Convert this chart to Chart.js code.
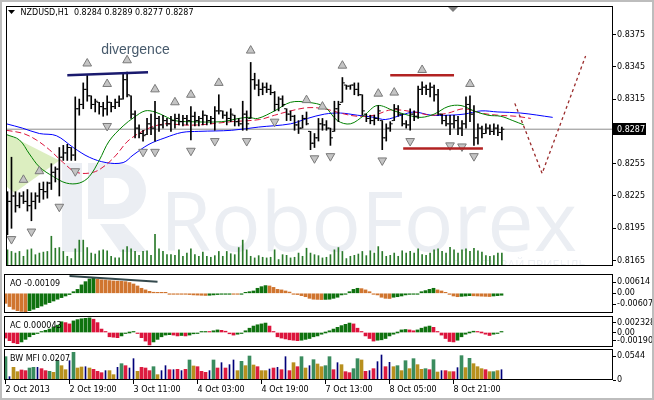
<!DOCTYPE html>
<html><head><meta charset="utf-8">
<script src="https://cdn.jsdelivr.net/npm/chart.js@4.4.1/dist/chart.umd.min.js"></script>
<style>
html,body{margin:0;padding:0;background:#fff;overflow:hidden}
#wrap{position:relative;width:654px;height:400px;background:#fff}
#wrap canvas{position:absolute;left:0}
#edge{position:absolute;left:0;top:0;width:650px;height:396px;border:2px solid #bdbdbd;pointer-events:none}
</style></head><body>
<div id="wrap">
<canvas id="cMain" width="654" height="272" style="top:0px"></canvas>
<canvas id="cAO" width="654" height="39" style="top:274px"></canvas>
<canvas id="cAC" width="654" height="31" style="top:316px"></canvas>
<canvas id="cMFI" width="654" height="51" style="top:349px"></canvas>
<div id="edge"></div>
</div>
<script>
// ---------------- DATA ----------------
const symbolTitle = 'NZDUSD,H1  0.8284 0.8289 0.8277 0.8287';
const timeLabels = ['2 Oct 2013','2 Oct 19:00','3 Oct 11:00','4 Oct 03:00','4 Oct 19:00','7 Oct 13:00','8 Oct 05:00','8 Oct 21:00'];
const timeLabelBars = [0,16,32,48,64,80,96,112];
const priceTicks = [0.8375,0.8345,0.8315,0.8255,0.8225,0.8195,0.8165];

const highs = [0.8229,0.8261,0.8229,0.8228,0.8229,0.8231,0.8228,0.8228,0.8237,0.8238,
0.8238,0.8255,0.8252,0.8270,0.8272,0.8273,0.8270,0.8317,0.8315,0.8330,
0.8337,0.8318,0.8315,0.8312,0.8312,0.8318,0.8312,0.8315,0.8318,0.8339,
0.8340,0.8318,0.8304,0.8291,0.8286,0.8297,0.8301,0.8313,0.8299,0.8300,
0.8297,0.8299,0.8301,0.8301,0.8300,0.8300,0.8308,0.8303,0.8299,0.8304,
0.8300,0.8299,0.8308,0.8319,0.8304,0.8303,0.8306,0.8300,0.8297,0.8313,
0.8304,0.8349,0.8339,0.8333,0.8330,0.8330,0.8328,0.8322,0.8317,0.8318,
0.8306,0.8304,0.8300,0.8295,0.8300,0.8303,0.8285,0.8283,0.8297,0.8297,
0.8295,0.8288,0.8313,0.8313,0.8335,0.8328,0.8328,0.8330,0.8330,0.8319,
0.8301,0.8300,0.8300,0.8309,0.8295,0.8292,0.8294,0.8310,0.8309,0.8301,
0.8295,0.8306,0.8304,0.8327,0.8331,0.8328,0.8330,0.8328,0.8324,0.8301,
0.8300,0.8300,0.8300,0.8299,0.8295,0.8317,0.8318,0.8309,0.8292,0.8290,
0.8292,0.8291,0.8292,0.8291,0.8289];
const lows = [0.8189,0.8195,0.8210,0.8214,0.8218,0.8211,0.8202,0.8213,0.8219,0.8222,
0.8223,0.8231,0.8238,0.8225,0.8258,0.8258,0.8258,0.8258,0.8300,0.8306,
0.8313,0.8306,0.8303,0.8301,0.8299,0.8300,0.8303,0.8306,0.8308,0.8315,
0.8317,0.8297,0.8279,0.8279,0.8276,0.8282,0.8282,0.8276,0.8285,0.8288,
0.8290,0.8285,0.8288,0.8291,0.8290,0.8291,0.8277,0.8290,0.8290,0.8291,
0.8291,0.8292,0.8286,0.8301,0.8297,0.8291,0.8294,0.8290,0.8290,0.8286,
0.8286,0.8297,0.8324,0.8318,0.8319,0.8321,0.8319,0.8304,0.8304,0.8308,
0.8295,0.8295,0.8286,0.8283,0.8288,0.8291,0.8268,0.8270,0.8276,0.8286,
0.8286,0.8272,0.8285,0.8294,0.8312,0.8324,0.8324,0.8319,0.8318,0.8300,
0.8294,0.8292,0.8291,0.8295,0.8268,0.8276,0.8285,0.8295,0.8299,0.8290,
0.8288,0.8286,0.8295,0.8297,0.8319,0.8319,0.8317,0.8313,0.8300,0.8292,
0.8290,0.8282,0.8288,0.8282,0.8281,0.8288,0.8294,0.8272,0.8273,0.8279,
0.8283,0.8282,0.8282,0.8281,0.8277];
const opens = [0.8198,0.8220,0.8225,0.8216,0.8225,0.8220,0.8216,0.8220,0.8225,0.8231,
0.8229,0.8237,0.8247,0.8250,0.8261,0.8265,0.8270,0.8263,0.8306,0.8310,
0.8324,0.8318,0.8310,0.8312,0.8308,0.8306,0.8312,0.8308,0.8312,0.8315,
0.8333,0.8318,0.8301,0.8288,0.8283,0.8282,0.8292,0.8288,0.8297,0.8291,
0.8295,0.8292,0.8295,0.8297,0.8294,0.8297,0.8295,0.8299,0.8295,0.8297,
0.8300,0.8295,0.8297,0.8304,0.8304,0.8300,0.8297,0.8300,0.8294,0.8292,
0.8301,0.8297,0.8333,0.8328,0.8324,0.8326,0.8324,0.8321,0.8310,0.8315,
0.8306,0.8301,0.8299,0.8291,0.8288,0.8297,0.8285,0.8274,0.8279,0.8292,
0.8291,0.8288,0.8285,0.8306,0.8312,0.8328,0.8327,0.8328,0.8324,0.8319,
0.8301,0.8297,0.8295,0.8297,0.8295,0.8279,0.8288,0.8295,0.8306,0.8301,
0.8292,0.8291,0.8301,0.8299,0.8324,0.8326,0.8324,0.8326,0.8319,0.8301,
0.8295,0.8292,0.8292,0.8295,0.8288,0.8292,0.8310,0.8301,0.8279,0.8288,
0.8283,0.8288,0.8285,0.8288,0.8284];
const closes = [0.8220,0.8225,0.8216,0.8225,0.8220,0.8216,0.8220,0.8225,0.8231,0.8229,
0.8237,0.8247,0.8250,0.8261,0.8265,0.8270,0.8263,0.8306,0.8310,0.8324,
0.8318,0.8310,0.8313,0.8308,0.8306,0.8312,0.8308,0.8312,0.8315,0.8333,
0.8319,0.8301,0.8288,0.8283,0.8281,0.8292,0.8288,0.8297,0.8291,0.8295,
0.8292,0.8295,0.8297,0.8294,0.8297,0.8295,0.8299,0.8295,0.8297,0.8300,
0.8295,0.8297,0.8304,0.8304,0.8300,0.8297,0.8301,0.8294,0.8292,0.8301,
0.8292,0.8333,0.8328,0.8324,0.8326,0.8324,0.8321,0.8310,0.8315,0.8310,
0.8301,0.8299,0.8291,0.8288,0.8297,0.8292,0.8274,0.8279,0.8292,0.8291,
0.8288,0.8279,0.8306,0.8310,0.8330,0.8327,0.8328,0.8324,0.8319,0.8304,
0.8297,0.8295,0.8297,0.8304,0.8279,0.8288,0.8292,0.8306,0.8301,0.8292,
0.8291,0.8301,0.8299,0.8324,0.8326,0.8324,0.8326,0.8319,0.8301,0.8295,
0.8292,0.8292,0.8295,0.8288,0.8292,0.8310,0.8301,0.8279,0.8288,0.8283,
0.8288,0.8285,0.8288,0.8284,0.8287];
const volumes = [500,450,400,450,300,500,530,350,400,430,450,920,550,570,450,300,230,530,800,800,
570,400,370,470,500,470,300,250,250,500,600,530,450,330,450,470,330,980,530,450,
350,350,330,500,300,400,530,350,300,430,300,270,320,450,300,450,380,350,570,800,
500,300,250,320,270,250,270,500,200,350,330,250,270,400,300,550,400,350,320,
250,270,350,500,570,450,230,300,330,370,450,320,470,400,600,450,300,330,400,300,
470,400,450,400,530,350,330,400,500,530,450,400,580,500,400,500,530,450,550,470,
430,320,300,320,400,400];

// Alligator lines: [bar index, price]
const jawLine = [[-0.25,0.8292],[3.75,0.8288],[8,0.8283],[12.25,0.8281],[16.5,0.8270],[20.5,0.8261],[24.75,0.8256],[29,0.8256],[31.5,0.8263],[35.5,0.8273],[39.5,0.8279],[43.75,0.8284],[48,0.8285],[56.25,0.8286],[63,0.8289],[71,0.8292],[75.25,0.8297],[79.5,0.8301],[83.5,0.8302],[87.75,0.8300],[92,0.8298],[94.75,0.8296],[98.75,0.8300],[102,0.8303],[106.25,0.8300],[110.5,0.8300],[114.5,0.8301],[118.75,0.8304],[123,0.8303],[128.75,0.8302],[136.75,0.8298]];
const teethLine = [[-0.25,0.8286],[4,0.8283],[7.25,0.8277],[10.5,0.8268],[14,0.8256],[17.25,0.8247],[21.5,0.8247],[24.75,0.8254],[27.25,0.8263],[30.5,0.8277],[35.5,0.8288],[39.5,0.8292],[43.75,0.8291],[48,0.8291],[56.25,0.8294],[63.25,0.8296],[67,0.8300],[71,0.8304],[75.25,0.8307],[79.5,0.8306],[83.5,0.8302],[87.75,0.8299],[92,0.8300],[96.25,0.8305],[102,0.8303],[106.25,0.8300],[110.5,0.8302],[114.5,0.8306],[118.75,0.8302],[123,0.8300],[127.5,0.8299],[131.25,0.8297]];
const lipsLine = [[-0.25,0.8282],[3,0.8277],[5.5,0.8264],[8,0.8252],[11.5,0.8243],[14.75,0.8237],[18,0.8237],[20.5,0.8243],[23,0.8258],[25.5,0.8276],[29,0.8290],[31.75,0.8298],[34.5,0.8304],[37,0.8303],[39.5,0.8299],[42,0.8295],[45.5,0.8294],[53.75,0.8294],[58,0.8297],[60.5,0.8298],[62.75,0.8297],[67,0.8304],[71,0.8312],[75.25,0.8312],[79.5,0.8308],[82.75,0.8295],[86,0.8292],[89.5,0.8300],[92.75,0.8309],[97,0.8304],[100.5,0.8300],[103.75,0.8298],[107,0.8301],[110.5,0.8308],[113.75,0.8309],[117,0.8304],[120.5,0.8300],[123.75,0.8299],[126.75,0.8295],[129.5,0.8291]];

const fractalUp = [4,8,20,25,30,37,42,46,53,61,75,79,84,93,97,104,116];
const fractalDown = [1,6,13,17,25,34,37,46,52,60,67,77,81,94,101,111,114,117];

const shadeArea = [[-0.375,0.8283],[13,0.8258],[1.75,0.8228],[-0.375,0.8234],[-0.375,0.8283]];
const divergenceLine = [[15,0.8337],[35.25,0.8340]];
const resistanceLine = [[96,0.8337],[112,0.8337]];
const supportLine = [[99.25,0.8269],[119.25,0.8269]];
const forecastPath = [[127.25,0.8311],[134.1,0.8246],[145,0.8355]];

const aoValues = [-0.0056,-0.0074,-0.0089,-0.0097,-0.0101,-0.0103,-0.0097,-0.0089,-0.0080,-0.0071,
-0.0061,-0.0052,-0.0043,-0.0033,-0.0024,-0.0015,-0.0007,0.0009,0.0022,0.0047,
0.0065,0.0080,0.0084,0.0078,0.0075,0.0074,0.0071,0.0069,0.0068,0.0067,
0.0065,0.0060,0.0052,0.0041,0.0028,0.0019,0.0011,0.0006,0.0004,0.0002,
0.0001,-0.0001,-0.0002,-0.0003,-0.0004,-0.0005,-0.0007,-0.0009,-0.0010,-0.0011,
-0.0012,-0.0011,-0.0009,-0.0007,-0.0005,-0.0004,-0.0003,-0.0004,-0.0005,-0.0002,
0.0003,0.0009,0.0013,0.0028,0.0037,0.0043,0.0041,0.0033,0.0022,0.0019,
0.0013,0.0007,-0.0004,-0.0007,-0.0013,-0.0019,-0.0028,-0.0033,-0.0034,-0.0035,
-0.0034,-0.0033,-0.0028,-0.0022,-0.0009,-0.0004,0.0009,0.0022,0.0028,0.0026,
0.0019,0.0009,-0.0004,-0.0009,-0.0022,-0.0028,-0.0029,-0.0022,-0.0019,-0.0015,
-0.0009,-0.0006,-0.0005,-0.0004,0.0009,0.0015,0.0022,0.0028,0.0019,0.0013,
0.0004,-0.0006,-0.0015,-0.0019,-0.0017,-0.0015,-0.0013,-0.0014,-0.0015,-0.0016,
-0.0017,-0.0018,-0.0015,-0.0013,-0.00109];
const aoTrend = [[16,0.0097],[38,0.0064]];
const aoTicks = [0.00614,0,-0.00607];
const aoTickLabels = ['0.00614','0.00','-0.00607'];

const acValues = [-0.0013,-0.0019,-0.0024,-0.0026,-0.0022,-0.0016,-0.0010,-0.0005,-0.0002,0.0002,
0.0005,0.0008,0.0012,0.0017,0.0025,0.0023,0.0020,0.0027,0.0030,0.0032,
0.0033,0.0034,0.0031,0.0023,0.0008,0.0001,-0.0010,-0.0011,-0.0012,-0.0008,
-0.0002,0.0000,0.0002,-0.0002,-0.0012,-0.0020,-0.0029,-0.0022,-0.0016,-0.0010,
-0.0006,-0.0005,-0.0006,-0.0008,-0.0007,-0.0008,-0.0006,-0.0003,-0.0001,0.0001,
0.0002,0.0001,0.0004,0.0006,0.0005,0.0003,-0.0003,-0.0006,-0.0004,-0.0002,
0.0004,0.0010,0.0015,0.0018,0.0020,0.0022,0.0015,0.0002,-0.0010,-0.0013,
-0.0015,-0.0017,-0.0018,-0.0019,-0.0018,-0.0016,-0.0014,-0.0010,-0.0008,-0.0004,
0.0000,0.0004,0.0008,0.0012,0.0016,0.0019,0.0022,0.0020,0.0010,0.0002,
-0.0008,-0.0014,-0.0020,-0.0018,-0.0017,-0.0014,-0.0008,-0.0004,0.0000,0.0006,
0.0007,0.0006,0.0004,0.0006,0.0010,0.0013,0.0015,0.0012,0.0002,-0.0006,
-0.0014,-0.0021,-0.0022,-0.0018,-0.0010,-0.0004,0.0000,0.0003,0.0001,0.0000,
-0.0004,-0.0007,-0.0004,-0.0002,0.000043];
const acTicks = [0.002328,0,-0.0019];
const acTickLabels = ['0.002328','0.00','-0.00190'];

const mfiValues = [0.0529,0.0076,0.0287,0.0189,0.0227,0.0212,0.0272,0.0287,0.0287,0.0257,
0.0212,0.0197,0.0174,0.0438,0.0325,0.0234,0.0438,0.0627,0.0272,0.0295,
0.0302,0.0272,0.0242,0.0197,0.0166,0.0212,0.0212,0.0121,0.0287,0.0370,
0.0325,0.0272,0.0484,0.0197,0.0287,0.0272,0.0212,0.0302,0.0121,0.0212,
0.0325,0.0234,0.0234,0.0242,0.0212,0.0242,0.0454,0.0318,0.0302,0.0197,
0.0174,0.0212,0.0454,0.0272,0.0393,0.0272,0.0348,0.0454,0.0212,0.0423,
0.0325,0.0544,0.0340,0.0302,0.0212,0.0212,0.0249,0.0272,0.0287,0.0234,
0.0529,0.0212,0.0393,0.0302,0.0529,0.0272,0.0325,0.0461,0.0363,0.0302,
0.0325,0.0529,0.0234,0.0393,0.0348,0.0189,0.0166,0.0257,0.0484,0.0454,
0.0197,0.0212,0.0257,0.0416,0.0567,0.0302,0.0401,0.0302,0.0325,0.0212,
0.0438,0.0257,0.0484,0.0348,0.0242,0.0257,0.0234,0.0461,0.0181,0.0212,
0.0212,0.0189,0.0189,0.0280,0.0552,0.0280,0.0491,0.0370,0.0302,0.0257,
0.0234,0.0189,0.0189,0.0212,0.0234];
const mfiZone = ['green','fake','fade','fade','squat','squat','green','green','fake','squat',
'squat','green','fade','green','fade','fade','fake','green','fade','fade',
'fake','fade','squat','squat','squat','fake','fade','fade','fake','green',
'squat','fake','fake','fade','squat','squat','squat','green','fade','fake',
'fake','squat','fake','squat','fake','squat','green','fade','squat','squat',
'squat','fake','green','squat','fake','squat','fake','fake','fade','green',
'fade','green','fade','squat','fade','fade','fake','squat','fake','squat',
'fake','squat','fade','squat','green','fade','fake','green','fade','fade',
'green','green','squat','fake','fade','squat','squat','green','green','fade',
'squat','fake','squat','fake','fake','squat','fake','fade','green','fade',
'green','fade','green','fade','fade','green','squat','green','fade','fake',
'squat','fade','squat','fake','green','fade','green','fade','fade','fade',
'squat','fade','green','fade','fake'];
const mfiTicks = [0.0544,0];
const mfiTickLabels = ['0.0544','0'];

// ---------------- STYLE / HELPERS ----------------
const FONT = 'DejaVu Sans';
const X_MIN = -0.375, X_MAX = 151.875;
const C_GREEN = '#0f720f', C_ORANGE = '#d0752f', C_RED = '#dc143c';
const zoneColor = {green:'#3a8c5e', fade:'#b8901e', squat:'#dc1c40', fake:'#00007a'};
const lastClose = closes[closes.length-1];

function pts(arr){ return arr.map(p=>({x:p[0], y:p[1]})); }
function xAxis(){ return {type:'linear', min:X_MIN, max:X_MAX, offset:false, display:false}; }
function rightAxis(min, max, ticks, labels){
  return {
    position:'right', min:min, max:max,
    afterFit(s){ s.width = 41; s.paddingTop = 0; s.paddingBottom = 0; },
    afterBuildTicks(s){ s.ticks = ticks.map(v=>({value:v})); },
    ticks:{ autoSkip:false, padding:1, color:'#000', font:{family:FONT, size:8},
      callback:(v)=>{ const k = ticks.indexOf(v); return k>=0 ? labels[k] : ''; } },
    grid:{ drawOnChartArea:false, drawTicks:true, tickLength:3, color:'#000' },
    border:{ display:false }
  };
}
const frame = { id:'frame', afterDraw(chart){
  const {ctx, chartArea:a} = chart; ctx.save(); ctx.strokeStyle='#000'; ctx.lineWidth=1;
  ctx.strokeRect(a.left+0.5, a.top+0.5, a.right-a.left-1, a.bottom-a.top-1); ctx.restore(); } };
function label(text){ return { id:'lbl', afterDatasetsDraw(chart){
  const {ctx, chartArea:a} = chart; ctx.save(); ctx.font='8px '+FONT; ctx.fillStyle='#000';
  ctx.textBaseline='middle'; ctx.textAlign='left'; ctx.fillText(text, a.left+6, a.top+9.5); ctx.restore(); } }; }
const baseOpts = { responsive:false, animation:false, events:[], plugins:{legend:{display:false}, tooltip:{enabled:false}} };

// ---------------- MAIN PRICE CHART ----------------
const mainDecor = {
  id:'mainDecor',
  beforeDatasetsDraw(chart){
    const {ctx, chartArea:a} = chart;
    ctx.save();
    ctx.beginPath(); ctx.rect(a.left, a.top, a.right-a.left, a.bottom-a.top); ctx.clip();
    // watermark
    ctx.fillStyle = '#ebeef3';
    ctx.textBaseline = 'alphabetic'; ctx.textAlign = 'left';
    ctx.font = '100px "Open Sans"';
    const w = ctx.measureText('RoboForex').width;
    ctx.font = (100*417/w).toFixed(1)+'px "Open Sans"';
    ctx.fillText('RoboForex', 160, 251);
    // logo block
    ctx.fillRect(62, 163, 20, 89);
    ctx.beginPath(); ctx.moveTo(88,163); ctx.lineTo(118,163); ctx.arc(118,191,28,-Math.PI/2,Math.PI/2); ctx.lineTo(88,219); ctx.closePath(); ctx.fill();
    ctx.beginPath(); ctx.moveTo(100,224); ctx.lineTo(124,224); ctx.lineTo(147,252); ctx.lineTo(120,252); ctx.closePath(); ctx.fill();
    ctx.fillStyle = '#fff';
    ctx.beginPath(); ctx.moveTo(104,178); ctx.lineTo(116,178); ctx.arc(116,191,13,-Math.PI/2,Math.PI/2); ctx.lineTo(104,204); ctx.closePath(); ctx.fill();
    ctx.fillStyle = '#edf0f4';
    ctx.font = '12px "Open Sans"'; ctx.textAlign='right';
    ctx.fillText('ЗАРАБАТЫВАЙ ПРИБЫЛЬ', 586, 269);
    ctx.restore();
  },
  afterDraw(chart){
    const {ctx, chartArea:a, scales} = chart;
    const ys = scales.y, xs = scales.x;
    ctx.save();
    // title
    ctx.fillStyle='#000';
    ctx.beginPath(); ctx.moveTo(8,10); ctx.lineTo(15,10); ctx.lineTo(11.5,14); ctx.closePath(); ctx.fill();
    ctx.font='8px '+FONT; ctx.textBaseline='middle'; ctx.textAlign='left';
    ctx.fillText(symbolTitle, 20.5, 12.5);
    // divergence caption
    ctx.font='14px "Liberation Sans"'; ctx.fillStyle='#475a6c';
    ctx.fillText('divergence', xs.getPixelForValue(23.5), ys.getPixelForValue(0.8360));
    // shift marker
    const mx = xs.getPixelForValue(111.75);
    ctx.fillStyle='#7c7c7c';
    ctx.beginPath(); ctx.moveTo(mx-5,a.top+1); ctx.lineTo(mx+5,a.top+1); ctx.lineTo(mx,a.top+6); ctx.closePath(); ctx.fill();
    // current price box
    const py = Math.round(ys.getPixelForValue(lastClose));
    ctx.fillStyle='#000'; ctx.fillRect(a.right, py-6, 33, 12);
    ctx.fillStyle='#fff'; ctx.font='8px '+FONT; ctx.textAlign='left';
    ctx.fillText(lastClose.toFixed(4), a.right+4, py+0.5);
    ctx.restore();
  }
};

new Chart(document.getElementById('cMain'), {
  type:'bar',
  data:{ datasets:[
    {type:'line', data:pts(shadeArea), fill:'shape', backgroundColor:'rgba(196,226,150,0.6)', borderWidth:0, pointRadius:0, tension:0, order:30},
    {type:'bar', yAxisID:'yv', data:volumes.map((v,i)=>({x:i,y:v})), backgroundColor:'#2b7a2b', barThickness:1, grouped:false, order:29},
    {type:'line', data:[{x:X_MIN,y:lastClose},{x:X_MAX,y:lastClose}], borderColor:'#8c8c8c', borderWidth:1, pointRadius:0, order:28},
    {type:'line', data:pts(jawLine), borderColor:'#0000ff', borderWidth:1, pointRadius:0, tension:0.35, order:12},
    {type:'line', data:pts(teethLine), borderColor:'#dc143c', borderWidth:1, borderDash:[6,3], pointRadius:0, tension:0.35, order:11},
    {type:'line', data:pts(lipsLine), borderColor:'#008000', borderWidth:1, pointRadius:0, tension:0.35, order:10},
    {type:'bar', data:highs.map((h,i)=>({x:i, y:[lows[i],h]})), backgroundColor:'#000', barThickness:1, grouped:false, order:5},
    {type:'scatter', data:opens.map((o,i)=>({x:i-0.375, y:o})), pointStyle:'line', radius:1, borderColor:'#000', borderWidth:1, order:4},
    {type:'scatter', data:closes.map((c,i)=>({x:i+0.375, y:c})), pointStyle:'line', radius:1, borderColor:'#000', borderWidth:1, order:4},
    {type:'scatter', data:fractalUp.map(i=>({x:i, y:highs[i]+0.0011})), pointStyle:'triangle', radius:5, backgroundColor:'#c4c4c4', borderColor:'#7a7a7a', borderWidth:1, order:3},
    {type:'scatter', data:fractalDown.map(i=>({x:i, y:lows[i]-0.0010})), pointStyle:'triangle', rotation:180, radius:5, backgroundColor:'#c4c4c4', borderColor:'#7a7a7a', borderWidth:1, order:3},
    {type:'line', data:pts(divergenceLine), borderColor:'#1a1a6e', borderWidth:2.5, pointRadius:0, order:1},
    {type:'line', data:pts(resistanceLine), borderColor:'#b22222', borderWidth:2.5, pointRadius:0, order:1},
    {type:'line', data:pts(supportLine), borderColor:'#b22222', borderWidth:2.5, pointRadius:0, order:1},
    {type:'line', data:pts(forecastPath), borderColor:'#9b2c2c', borderWidth:1.3, borderDash:[3,3], pointRadius:0, order:1}
  ]},
  options: Object.assign({}, baseOpts, {
    layout:{ padding:{top:4, left:4, right:0, bottom:0} },
    scales:{
      x: xAxis(),
      y: rightAxis(0.81600, 0.84014, priceTicks, priceTicks.map(v=>v.toFixed(4))),
      yv: { display:false, min:0, max:8040 }
    }
  }),
  plugins:[mainDecor, frame]
});

// ---------------- AO ----------------
const aoColors = aoValues.map((v,i)=> (i>0 && v>aoValues[i-1]) ? C_GREEN : C_ORANGE);
new Chart(document.getElementById('cAO'), {
  type:'bar',
  data:{ datasets:[
    {type:'line', data:pts(aoTrend), borderColor:'#34494d', borderWidth:2, pointRadius:0, order:0},
    {data:aoValues.map((v,i)=>({x:i,y:v})), backgroundColor:aoColors, barThickness:3, minBarLength:1, grouped:false, order:1}
  ]},
  options: Object.assign({}, baseOpts, {
    layout:{ padding:{top:0, left:4, right:0, bottom:0} },
    scales:{ x:xAxis(), y:rightAxis(-0.01099, 0.01077, aoTicks, aoTickLabels) }
  }),
  plugins:[label('AO -0.00109'), frame]
});

// ---------------- AC ----------------
const acColors = acValues.map((v,i)=> (i>0 && v>acValues[i-1]) ? C_GREEN : C_RED);
new Chart(document.getElementById('cAC'), {
  type:'bar',
  data:{ datasets:[
    {data:acValues.map((v,i)=>({x:i,y:v})), backgroundColor:acColors, barThickness:3, minBarLength:1, grouped:false}
  ]},
  options: Object.assign({}, baseOpts, {
    layout:{ padding:{top:0, left:4, right:0, bottom:0} },
    scales:{ x:xAxis(), y:rightAxis(-0.00338, 0.003845, acTicks, acTickLabels) }
  }),
  plugins:[label('AC 0.000043'), frame]
});

// ---------------- BW MFI ----------------
new Chart(document.getElementById('cMFI'), {
  type:'bar',
  data:{ datasets:[
    {data:mfiValues.map((v,i)=>({x:i, y: mfiZone[i]==='fake' ? null : v})), backgroundColor:mfiZone.map(z=>zoneColor[z]), barThickness:3, grouped:false},
    {data:mfiValues.map((v,i)=>({x:i, y: mfiZone[i]==='fake' ? v : null})), backgroundColor:zoneColor.fake, barThickness:1, grouped:false}
  ]},
  options: Object.assign({}, baseOpts, {
    layout:{ padding:{top:0, left:4, right:0, bottom:0} },
    scales:{
      x:{ type:'linear', min:X_MIN, max:X_MAX, offset:false, position:'bottom',
        afterFit(s){ s.height = 20; s.paddingLeft = 0; s.paddingRight = 0; },
        afterBuildTicks(s){ s.ticks = timeLabelBars.map(v=>({value:v})); },
        ticks:{ autoSkip:false, maxRotation:0, minRotation:0, align:'start', padding:1, color:'#000', font:{family:FONT, size:8},
          callback:(v)=>{ const k = timeLabelBars.indexOf(v); return k>=0 ? timeLabels[k] : ''; } },
        grid:{ drawOnChartArea:false, drawTicks:true, tickLength:4, color:'#000', offset:false },
        border:{ display:false } },
      y: rightAxis(0, 0.0703, mfiTicks, mfiTickLabels)
    }
  }),
  plugins:[label('BW MFI 0.0207'), frame]
});
</script>
</body></html>
